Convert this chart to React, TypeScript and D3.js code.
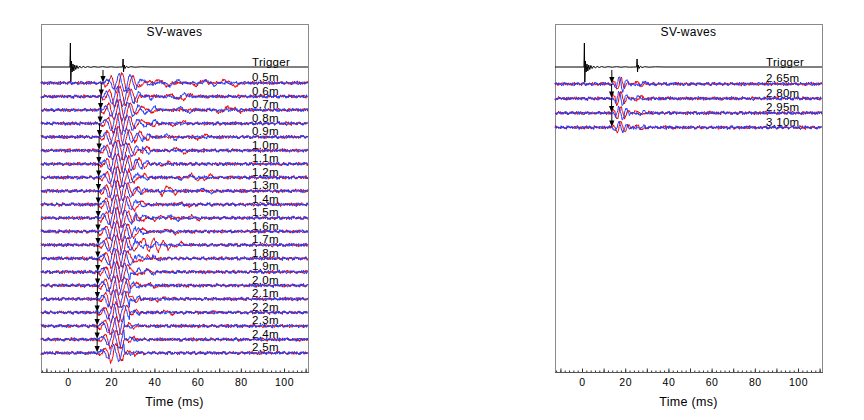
import * as d3 from "d3";
import { useEffect, useRef } from "react";

const WIDTH = 864;
const HEIGHT = 420;

// time axis (ms)
const timeDomain: [number, number] = [-12.5, 111.1];
const labelTicks = [0, 20, 40, 60, 80, 100];

// ---- left panel ----
const leftDepths = ["0.5m", "0.6m", "0.7m", "0.8m", "0.9m", "1.0m", "1.1m", "1.2m", "1.3m", "1.4m", "1.5m",
  "1.6m", "1.7m", "1.8m", "1.9m", "2.0m", "2.1m", "2.2m", "2.3m", "2.4m", "2.5m"];
// arrival picks (ms), where the arrows sit
const leftPicks = [16.2, 15.4, 15.1, 14.9, 14.6, 14.4, 14.3, 14.2, 14.1, 14.0, 14.0,
  13.9, 13.9, 13.8, 13.8, 13.7, 13.6, 13.5, 13.5, 13.5, 13.5];
const leftAmps = [14, 14.5, 14.5, 14.5, 14.5, 14.5, 14.5, 14.5, 14.5, 14.5, 14.5, 14.5, 14.5, 14, 14, 14, 13.5, 13.5, 13.5, 13, 13];
const leftLengths = [21, 19, 19, 19, 17, 17, 17, 17, 17, 15, 15, 15, 15, 15, 13, 13, 13, 13, 11, 11, 11];
const leftStep = 1.25;

// later arrivals on each trace: [start ms, amplitude px, period ms]
const leftRedTails: [number, number, number][][] = [
  [[33, -3, 6], [40, 3, 8], [57, -2.5, 8], [70, 3, 10]],
  [[33, -3, 5], [45, 2, 8], [52, -3, 6]],
  [[34, 2.5, 7], [68, -2.5, 8], [75, 2, 6]],
  [[34, 3, 7], [47, -2, 8]],
  [[32, 2.5, 6], [58, -2, 8]],
  [[32, -3, 6], [48, 2.5, 8]],
  [[31, 3, 6], [42, -2, 6]],
  [[31, -2.5, 6], [56, 3, 5], [62, -3, 5]],
  [[30, 2, 6], [42, -4, 5], [46, 3, 5]],
  [[30, -2.5, 6], [50, 2, 8]],
  [[30, 3, 6], [39, -3, 5], [56, 2.5, 6]],
  [[30, -3, 6], [44, 2, 8]],
  [[30, -3, 5], [34, 6, 4.5], [38.5, 6, 4.5], [43, 4, 4.5], [48, -2, 6]],
  [[28, 4, 5], [33, -3, 5]],
  [[28, 3, 5], [33, -3, 5]],
  [[28, -3, 5], [36, 2, 6]],
  [[28, 3, 5], [40, -2, 6]],
  [[28, -2.5, 5], [44, 2, 6]],
  [[27, 2.5, 5]],
  [[27, -2.5, 5]],
  [[27, 2, 5]],
];
const leftBlueTails: [number, number, number][][] = [
  [[34, 3, 6], [45, -2.5, 8], [62, 2, 8]],
  [[34, 2.5, 6], [48, -2, 8]],
  [[35, -2.5, 7], [50, 2, 8]],
  [[35, -2.5, 7]],
  [[33, -2, 6], [44, 2, 8]],
  [[33, 2.5, 6]],
  [[32, -2.5, 6]],
  [[32, 2, 6], [50, -2, 8]],
  [[31, -2, 6], [60, 2, 8]],
  [[31, 2, 6]],
  [[31, -2.5, 6], [45, 2, 8]],
  [[31, 2.5, 6]],
  [[31, 3, 5], [37, -3, 5]],
  [[29, -3, 5], [38, 2, 6]],
  [[29, -2.5, 5], [35, 2, 6]],
  [[29, 2.5, 5]],
  [[29, -2.5, 5]],
  [[29, 2, 5]],
  [[28, -2, 5]],
  [[28, 2, 5]],
  [[28, -2, 5]],
];

// ---- right panel ----
const rightDepths = ["2.65m", "2.80m", "2.95m", "3.10m"];
const rightPicks = [13.8, 13.7, 13.7, 13.8];
const rightAmps = [10, 10, 9.5, 9];
const rightLengths = [12, 12, 12, 12];
const rightStep = 0.85;
const rightRedTails: [number, number, number][][] = [[[24, 2, 5]], [[24, -2, 5]], [[24, 2, 5]], [[24, 1.5, 5]]];
const rightBlueTails: [number, number, number][][] = [[[25, -2, 5]], [[25, 2, 5]], [[25, -1.5, 5]], [[25, -1.5, 5]]];

// wavelet shapes, quarter-period samples (blue lags red by a quarter period)
const leftRedWavelet = [0, -0.3, 0, 0.6, 0, -1.0, 0, 1.05, 0, -0.95, 0, 0.75, 0, -0.5, 0, 0.3, 0, -0.18, 0, 0.1, 0, -0.05, 0];
const leftBlueWavelet = [0, 0, 0.4, 0, -0.7, 0, 1.0, 0, -1.0, 0, 0.85, 0, -0.6, 0, 0.4, 0, -0.22, 0, 0.12, 0, -0.06, 0, 0];
const rightRedWavelet = [0, 0.4, 0, -0.9, 0, 1.0, 0, -0.7, 0, 0.35, 0, 0];
const rightBlueWavelet = [0, 0, -0.5, 0, 0.95, 0, -0.95, 0, 0.6, 0, -0.25, 0];
const tailShape = [0, 1.5, 0, -1.5, 0];

// trigger record: [ms, px up]
const triggerTrace: [number, number][] = [
  [-12.5, 0], [0.9, 0], [1.1, 24], [1.3, -15], [1.6, 6], [1.9, -5], [2.3, 3], [2.7, -4], [3.1, 2],
  [3.6, -2.5], [4.1, 1.5], [4.7, -1.5], [5.4, 1], [6.2, -1], [7, 0.6], [8, -0.5], [9, 0.4], [10.5, -0.3],
  [12, 0.3], [14, -0.2], [16, 0.3], [18, -0.2], [20, 0.2], [22, -0.2], [24, 0], [25.3, 0], [25.5, 8],
  [25.7, -5], [26, 2], [26.4, -1.5], [27, 0.8], [27.8, -0.5], [29, 0.3], [31, -0.2], [34, 0.2], [38, 0], [111.1, 0],
];

// background noise (hand-typed)
const noise = [0.3, -0.5, 0.8, -0.2, 0.1, -0.9, 0.6, 0.2, -0.4, 0.7, -0.8, 0.1, 0.5, -0.3, -0.6, 0.9, -0.1, 0.4,
  -0.7, 0.2, 0.6, -0.5, 0.0, 0.8, -0.9, 0.3, -0.2, 0.5, -0.6, 0.7, 0.1, -0.4, 0.9, -0.8, 0.2, -0.1, 0.6, -0.7,
  0.4, -0.3, 0.8, -0.5, 0.1, 0.3, -0.9, 0.5, -0.2, 0.7, -0.6, 0.0, 0.4, -0.8, 0.9, -0.3, 0.2, -0.7, 0.6, -0.1,
  0.5, -0.4, 0.3, -0.9, 0.8, -0.2, -0.5, 0.7, 0.1, -0.6, 0.4, -0.3, 0.9, -0.8, 0.2, 0.5, -0.1, -0.7, 0.6, -0.4,
  0.3, 0.8, -0.5, 0.0, -0.9, 0.7, -0.2, 0.4, -0.6, 0.1, 0.9, -0.3, 0.5, -0.8, 0.2, -0.4, 0.6, -0.7, 0.3, 0.1,
  -0.5, 0.8, -0.6];

const RED = "#f00000";
const BLUE = "#1e3cff";
const FONT = "'Liberation Sans', Arial, sans-serif";

function buildTrace(pick: number, amp: number, len: number, step: number, shape: number[],
  tails: [number, number, number][], offset: number) {
  const wave = d3.interpolateBasis(shape.slice(0, len));
  const tail = d3.interpolateBasis(tailShape);
  const span = (len - 1) * step;
  const dt = 0.28;
  const pts: [number, number][] = [];
  for (let k = 0; timeDomain[0] + k * dt <= timeDomain[1]; k++) {
    const t = timeDomain[0] + k * dt;
    // fine jitter plus a slower wander read from the same list
    let v = noise[(k + offset) % noise.length] * 1.4
      + noise[(Math.floor(k / 5) + offset * 3) % noise.length] * 1.0;
    if (t >= pick && t <= pick + span) v += wave((t - pick) / span) * amp;
    tails.forEach(([t0, a, p]) => {
      if (t >= t0 && t <= t0 + p) v += tail((t - t0) / p) * a;
    });
    pts.push([t, v]);
  }
  return pts;
}

const panels = [
  {
    x0: 41, depths: leftDepths, picks: leftPicks, amps: leftAmps, lengths: leftLengths, step: leftStep,
    red: leftRedWavelet, blue: leftBlueWavelet, redTails: leftRedTails, blueTails: leftBlueTails,
    yRange: [83, 353],
  },
  {
    x0: 555, depths: rightDepths, picks: rightPicks, amps: rightAmps, lengths: rightLengths, step: rightStep,
    red: rightRedWavelet, blue: rightBlueWavelet, redTails: rightRedTails, blueTails: rightBlueTails,
    yRange: [84, 127.5],
  },
];

const App = () => {
  const svgRef = useRef<SVGSVGElement>(null);

  useEffect(() => {
    const svg = d3.select(svgRef.current);
    svg.selectAll("*").remove();
    svg.append("rect").attr("width", WIDTH).attr("height", HEIGHT).attr("fill", "#fff");

    const top = 24, bottom = 372, panelW = 267, trigY = 67;

    panels.forEach((p) => {
      const x = d3.scaleLinear().domain(timeDomain).range([p.x0, p.x0 + panelW]);
      const y = d3.scaleLinear().domain([0, p.depths.length - 1]).range(p.yRange);
      const g = svg.append("g");

      g.append("rect")
        .attr("x", p.x0 + 0.5).attr("y", top + 0.5)
        .attr("width", panelW).attr("height", bottom - top)
        .attr("fill", "none").attr("stroke", "#8a8a8a").attr("stroke-width", 1);

      // title
      g.append("text")
        .attr("x", p.x0 + panelW / 2).attr("y", 36)
        .attr("text-anchor", "middle").attr("font-family", FONT).attr("font-size", 12)
        .attr("letter-spacing", 0.3)
        .text("SV-waves");

      // trigger
      const trig = d3.line<[number, number]>().x(d => x(d[0])).y(d => trigY - d[1]);
      g.append("path").datum(triggerTrace)
        .attr("d", trig).attr("fill", "none").attr("stroke", "#000").attr("stroke-width", 1);
      g.append("text")
        .attr("x", p.x0 + 211).attr("y", trigY - 1.5)
        .attr("font-family", FONT).attr("font-size", 11.5).attr("letter-spacing", 0.3)
        .text("Trigger");

      // traces
      p.depths.forEach((d, i) => {
        const y0 = y(i);
        const line = d3.line<[number, number]>().x(d => x(d[0])).y(d => y0 - d[1]);
        const redPts = buildTrace(p.picks[i], p.amps[i], p.lengths[i], p.step, p.red, p.redTails[i], i * 17);
        const bluePts = buildTrace(p.picks[i], p.amps[i], p.lengths[i], p.step, p.blue, p.blueTails[i], i * 31 + 50);
        g.append("path").datum(redPts)
          .attr("d", line).attr("fill", "none").attr("stroke", RED).attr("stroke-width", 1);
        g.append("path").datum(bluePts)
          .attr("d", line).attr("fill", "none").attr("stroke", BLUE).attr("stroke-width", 1);
      });

      // pick arrows
      p.depths.forEach((d, i) => {
        const y0 = y(i);
        const ax = x(p.picks[i]);
        const yStart = i === 0 ? trigY + 3 : y(i - 1);
        g.append("line")
          .attr("x1", ax).attr("x2", ax).attr("y1", yStart).attr("y2", y0 - 5)
          .attr("stroke", "#000").attr("stroke-width", 1);
        g.append("path")
          .attr("d", `M${ax - 2.6},${y0 - 7}L${ax + 2.6},${y0 - 7}L${ax},${y0 - 0.5}Z`)
          .attr("fill", "#000");
      });

      // depth labels
      p.depths.forEach((d, i) => {
        g.append("text")
          .attr("x", p.x0 + 211).attr("y", y(i) - 2)
          .attr("font-family", FONT).attr("font-size", 11.5).attr("letter-spacing", 0.3)
          .text(d);
      });

      // bottom axis, ticks pointing inward
      const minor = d3.range(-12, 112, 2);
      const mid = d3.range(-10, 112, 10);
      const axisG = g.append("g").attr("transform", `translate(0,${bottom + 0.5})`);
      axisG.append("g").call(d3.axisBottom(x).tickValues(minor).tickSize(-2).tickFormat(() => ""));
      axisG.append("g").call(d3.axisBottom(x).tickValues(mid).tickSize(-4).tickFormat(() => ""));
      axisG.append("g").call(d3.axisBottom(x).tickValues(labelTicks).tickSize(0).tickPadding(6).tickFormat(d3.format("d")));
      axisG.selectAll(".domain").remove();
      axisG.selectAll("line").attr("stroke", "#333");
      axisG.selectAll("text").attr("font-family", FONT).attr("font-size", 10.5).attr("fill", "#000")
        .attr("letter-spacing", 0.5);
      g.append("line")
        .attr("x1", p.x0).attr("x2", p.x0 + panelW + 1).attr("y1", bottom + 0.5).attr("y2", bottom + 0.5)
        .attr("stroke", "#555");

      g.append("text")
        .attr("x", p.x0 + panelW / 2).attr("y", 406)
        .attr("text-anchor", "middle").attr("font-family", FONT).attr("font-size", 12.5)
        .attr("letter-spacing", 0.3)
        .text("Time (ms)");
    });
  }, []);

  return (
    <svg ref={svgRef} width={WIDTH} height={HEIGHT}
      style={{ position: "absolute", left: 0, top: 0, display: "block" }} />
  );
};

export default App;
